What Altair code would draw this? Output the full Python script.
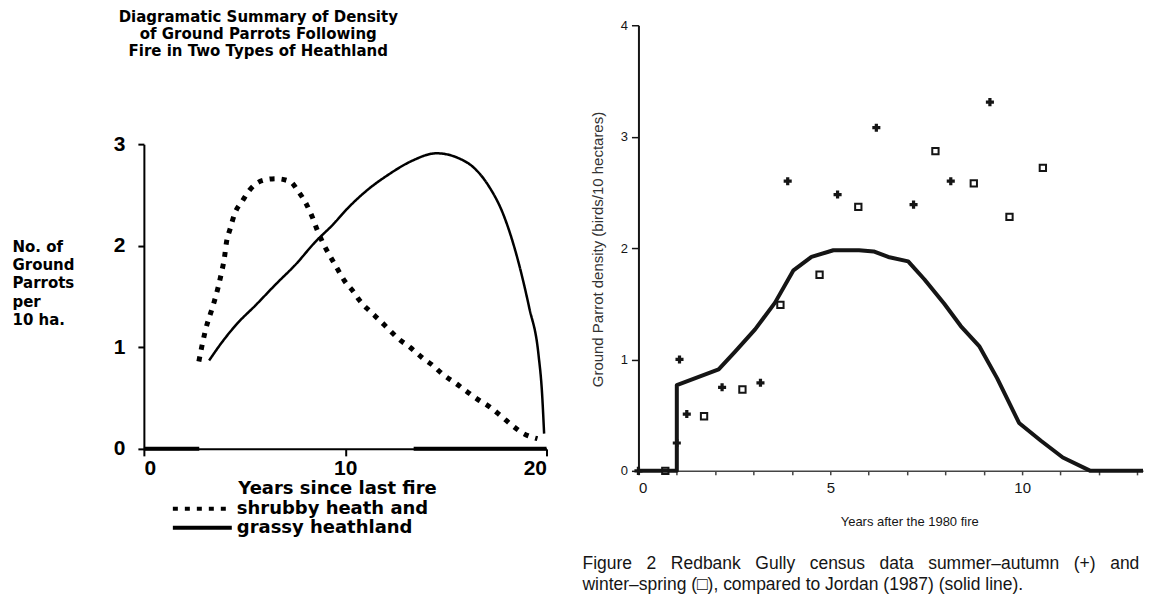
import altair as alt
import pandas as pd

# ---------------- Left panel: diagrammatic summary ----------------
series_names = ["shrubby heath and", "grassy heathland"]

shrub_x = [2.73, 2.87, 3.05, 3.48, 3.70, 3.85, 4.00, 4.10, 4.29, 4.52, 4.89, 5.26, 5.87, 6.55,
           7.28, 7.65, 8.07, 8.35, 8.60, 8.94, 9.27, 9.62, 9.98, 10.4, 10.72, 11.2, 11.69, 12.15,
           12.67, 13.22, 13.81, 14.36, 14.87, 15.46, 16.0, 16.56, 17.2, 17.76, 18.3, 18.77, 19.55]
shrub_y = [0.86, 1.00, 1.16, 1.44, 1.60, 1.73, 1.88, 2.03, 2.17, 2.32, 2.44, 2.55, 2.64, 2.66,
           2.63, 2.54, 2.41, 2.29, 2.16, 2.01, 1.89, 1.77, 1.65, 1.55, 1.46, 1.36, 1.27, 1.18,
           1.08, 1.00, 0.90, 0.82, 0.73, 0.65, 0.57, 0.49, 0.41, 0.32, 0.23, 0.16, 0.10]

grass_x = [3.24, 3.88, 4.62, 5.53, 6.55, 7.56, 8.48, 9.4, 10.13, 11.05, 12.15, 13.26, 14.54,
           15.65, 16.38, 17.12, 17.85, 18.59, 19.14, 19.6, 19.78, 19.88]
grass_y = [0.87, 1.05, 1.23, 1.41, 1.62, 1.82, 2.03, 2.21, 2.37, 2.54, 2.70, 2.83, 2.91,
           2.86, 2.77, 2.59, 2.31, 1.85, 1.39, 0.93, 0.54, 0.15]

baseline_x1 = [0.0, 13.4]
baseline_x2 = [2.75, 20.0]

left_title = ["Diagramatic Summary of Density", "of Ground Parrots Following",
              "Fire in Two Types of Heathland"]
left_ytitle = ["No. of", "Ground", "Parrots", "per", "10 ha."]
left_xtitle = "Years since last fire"

# ---------------- Right panel: Redbank Gully census ----------------
jordan_x = [0, 1.0, 1.0, 2.09, 2.52, 3.04, 3.56, 4.04, 4.51, 5.08, 5.75, 6.13, 6.51, 7.03,
            7.45, 7.97, 8.40, 8.88, 9.35, 9.92, 10.49, 11.06, 11.78, 13.15]
jordan_y = [0, 0, 0.77, 0.91, 1.07, 1.27, 1.51, 1.80, 1.92, 1.98, 1.98, 1.97, 1.92, 1.88,
            1.72, 1.50, 1.30, 1.12, 0.83, 0.43, 0.27, 0.12, 0.0, 0.0]

summer_x = [0, 1.0, 1.07, 1.26, 2.18, 3.18, 3.89, 5.19, 6.20, 7.17, 8.14, 9.16]
summer_y = [0, 0.25, 1.0, 0.51, 0.75, 0.79, 2.60, 2.48, 3.08, 2.39, 2.60, 3.31]

winter_x = [0.7, 1.71, 2.71, 3.70, 4.72, 5.73, 7.74, 8.74, 9.67, 10.54]
winter_y = [0, 0.49, 0.73, 1.49, 1.76, 2.37, 2.87, 2.58, 2.28, 2.72]

right_ytitle = "Ground Parrot density (birds/10 hectares)"
right_xtitle = "Years after the 1980 fire"
caption = ["Figure 2 Redbank Gully census data summer\u2013autumn (+) and",
           "winter\u2013spring (\u25a1), compared to Jordan (1987) (solid line)."]
# first caption line is set justified (wider word gaps), as in the printed figure
caption_shown = [" \u00a0\u00a0".join(caption[0].split(" ")), caption[1]]

# ---------------- build tables ----------------
left_df = pd.DataFrame({
    "x": shrub_x + grass_x,
    "y": shrub_y + grass_y,
    "series": [series_names[0]] * len(shrub_x) + [series_names[1]] * len(grass_x),
})
base_df = pd.DataFrame({"x1": baseline_x1, "x2": baseline_x2, "y": [0.0] * len(baseline_x1)})
jordan_df = pd.DataFrame({"x": jordan_x, "y": jordan_y, "i": list(range(len(jordan_x)))})
summer_df = pd.DataFrame({"x": summer_x, "y": summer_y})
winter_df = pd.DataFrame({"x": winter_x, "y": winter_y})

LF = "DejaVu Sans"
RF = "Liberation Sans"
INK = "#000000"
INK2 = "#151515"

# ---------------- left chart ----------------
xL = alt.X("x:Q", scale=alt.Scale(domain=[0, 20], nice=False),
           axis=alt.Axis(values=[0, 10, 20], grid=False, title=left_xtitle, format="d",
                         titleX=94, titleY=40, titleAlign="left", titleBaseline="middle",
                         titleFont=LF, titleFontSize=18, titleFontWeight="bold", titleColor=INK,
                         labelFont=RF, labelFontSize=21, labelFontWeight="bold", labelColor=INK,
                         labelPadding=2, tickSize=7, tickWidth=2, tickColor=INK,
                         domainWidth=2, domainColor=INK))
yL = alt.Y("y:Q", scale=alt.Scale(domain=[0, 3], range=[438, 133], nice=False),
           axis=alt.Axis(values=[0, 1, 2, 3], grid=False, title=left_ytitle, format="d",
                         titleAngle=0, titleX=-132, titleY=228, titleAlign="left",
                         titleBaseline="top", titleLineHeight=18.5,
                         titleFont=LF, titleFontSize=15, titleFontWeight="bold", titleColor=INK,
                         labelFont=RF, labelFontSize=21, labelFontWeight="bold", labelColor=INK,
                         labelPadding=13, tickSize=6, tickWidth=2, tickColor=INK,
                         domainWidth=2, domainColor=INK))

dash_scale = alt.Scale(domain=series_names, range=[[5, 7], [1, 0]])
dash_legend = alt.Legend(orient="none", legendX=75, legendY=489, title=None,
                         labelFont=LF, labelFontSize=18, labelFontWeight="bold", labelColor=INK,
                         labelLimit=0,
                         symbolType="M-11,0H0.8", symbolSize=100, symbolStrokeWidth=4,
                         symbolStrokeColor=INK, rowPadding=1, labelOffset=0)

dotted = alt.Chart(left_df).transform_filter(
    alt.datum.series == series_names[0]
).mark_line(interpolate="monotone", color=INK, strokeWidth=5, strokeCap="butt").encode(
    x=xL, y=yL, strokeDash=alt.StrokeDash("series:N", scale=dash_scale, legend=dash_legend))

solid = alt.Chart(left_df).transform_filter(
    alt.datum.series == series_names[1]
).mark_line(interpolate="monotone", color=INK, strokeWidth=2.5).encode(
    x=xL, y=yL, strokeDash=alt.StrokeDash("series:N", scale=dash_scale, legend=dash_legend))

base = alt.Chart(base_df).mark_rule(color=INK, strokeWidth=4).encode(
    x=alt.X("x1:Q"), x2="x2:Q", y=alt.Y("y:Q"))

left = alt.layer(base, dotted, solid).properties(
    width=403, height=438,
    title=alt.TitleParams(text=left_title, font=LF, fontSize=15, fontWeight="bold",
                          color=INK, anchor="middle", dx=-87, offset=-48, lineHeight=17))

# ---------------- right chart ----------------
xR = alt.X("x:Q", scale=alt.Scale(domain=[0, 13.15], nice=False),
           axis=alt.Axis(values=list(range(0, 14)), grid=False,
                         labelExpr="datum.value % 5 == 0 ? datum.label : ''",
                         title=right_xtitle, titleX=271, titleY=51, titleAlign="center",
                         titleBaseline="middle", titleFont=RF, titleFontSize=13,
                         titleFontWeight="normal", titleColor=INK2,
                         labelFont=RF, labelFontSize=15, labelColor=INK2, labelPadding=6,
                         tickSize=4, tickWidth=1.5, tickColor="#444",
                         domainWidth=1.5, domainColor="#444"))
yR = alt.Y("y:Q", scale=alt.Scale(domain=[0, 4], range=[460, 14], nice=False),
           axis=alt.Axis(values=[0, 1, 2, 3, 4], grid=False, title=right_ytitle,
                         titleX=-41, titleY=238, titleAlign="center", titleBaseline="middle",
                         titleFont=RF, titleFontSize=15, titleFontWeight="normal",
                         titleColor="#333",
                         labelFont=RF, labelFontSize=13, labelColor=INK2, labelPadding=4,
                         tickSize=7, tickWidth=1.5, tickColor=INK2,
                         domainWidth=2, domainColor=INK2))

jordan = alt.Chart(jordan_df).mark_line(color=INK2, strokeWidth=4, strokeJoin="round").encode(
    x=xR, y=yR, order=alt.Order("i:Q"))
summer = alt.Chart(summer_df).mark_point(shape="cross", filled=True, size=65, color=INK2,
                                         opacity=1).encode(x=xR, y=yR)
winter = alt.Chart(winter_df).mark_point(shape="square", filled=False, size=40, color=INK2,
                                         strokeWidth=2, opacity=1).encode(x=xR, y=yR)

right = alt.layer(jordan, summer, winter).properties(
    width=505, height=460,
    title=alt.TitleParams(text=caption_shown, orient="bottom", anchor="start", font=RF,
                          fontSize=17.5, fontWeight="normal", color=INK2, dx=-8,
                          offset=26, lineHeight=21))

chart = alt.hconcat(left, right, spacing=92, bounds="flush").properties(
    padding={"left": 4, "top": 2, "right": 0, "bottom": 0}
).configure_view(strokeWidth=0)

chart.save("out.html", embed_options={"renderer": "svg", "actions": False})
